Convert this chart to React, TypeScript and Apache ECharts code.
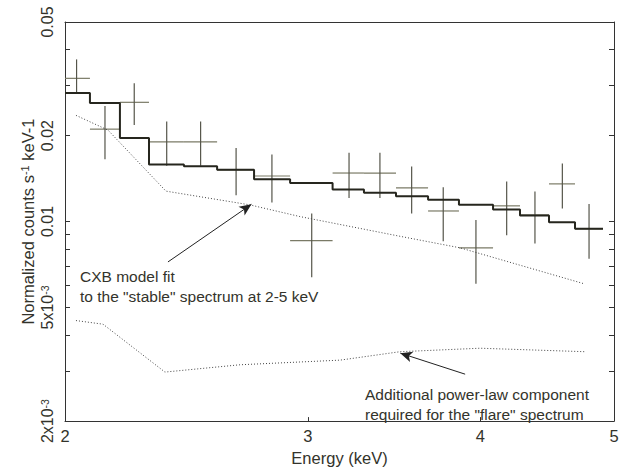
import React, { useEffect, useRef } from "react";
import * as echarts from "echarts";

// Energy bins (keV) of the spectrum
const binLo = [2.0, 2.085, 2.192, 2.301, 2.439, 2.578, 2.742, 2.912, 3.126, 3.294, 3.475, 3.666, 3.86, 4.086, 4.274, 4.486, 4.685];
const binHi = [2.085, 2.192, 2.301, 2.439, 2.578, 2.742, 2.912, 3.126, 3.294, 3.475, 3.666, 3.86, 4.086, 4.274, 4.486, 4.685, 4.909];
// Folded model (histogram), counts s^-1 keV^-1
const modelCounts = [0.02819, 0.02603, 0.01962, 0.01583, 0.01562, 0.01518, 0.01406, 0.01365, 0.01294, 0.01261, 0.01226, 0.01193, 0.01144, 0.01102, 0.01051, 0.00994, 0.00943];
// Observed data points with errors
const dataEnergy = [2.039, 2.138, 2.245, 2.37, 2.508, 2.661, 2.825, 3.019, 3.213, 3.383, 3.567, 3.76, 3.971, 4.18, 4.382, 4.587, 4.796];
const dataCounts = [0.03174, 0.02107, 0.02616, 0.019, 0.019, 0.01518, 0.01444, 0.00857, 0.01479, 0.01479, 0.01312, 0.01089, 0.00809, 0.01135, 0.01055, 0.01355, 0.00943];
const dataUpper = [0.03698, 0.02542, 0.03051, 0.0224, 0.0224, 0.0181, 0.01718, 0.01068, 0.01742, 0.01742, 0.01559, 0.0132, 0.01013, 0.01381, 0.01275, 0.01596, 0.01151];
const dataLower = [0.02841, 0.01652, 0.0218, 0.01567, 0.01567, 0.01236, 0.01165, 0.00638, 0.0121, 0.0121, 0.01068, 0.00853, 0.00605, 0.00895, 0.00838, 0.01111, 0.00741];
// CXB model component (dotted)
const cxbEnergy = [2.037, 2.149, 2.367, 2.723, 2.96, 3.498, 3.867, 4.748];
const cxbCounts = [0.02355, 0.0209, 0.01278, 0.01144, 0.01041, 0.00888, 0.00809, 0.00607];
// Additional power-law component (dotted)
const plEnergy = [2.037, 2.131, 2.363, 2.678, 3.165, 3.498, 3.998, 4.764];
const plCounts = [0.0045, 0.00437, 0.00297, 0.00315, 0.00327, 0.0035, 0.0036, 0.0035];
// Arrows [from, to] as [energy, counts]
const arrowCxb = [[2.375, 0.00722], [2.73, 0.01149]];
const arrowPl = [[3.9, 0.00292], [3.5, 0.00346]];
// Axis ticks / labels
const xLabelValues = [2, 3, 4, 5];
const xTickValues = [2, 3, 4, 5];
const yLabelValues = [0.002, 0.005, 0.01, 0.02, 0.05];
const yTickValues = [0.002, 0.003, 0.004, 0.005, 0.006, 0.007, 0.008, 0.009, 0.01, 0.02, 0.03, 0.04, 0.05];

const L = (v: number) => Math.log10(v);
const FONT = "'Liberation Sans', Arial, Helvetica, sans-serif";
const TXT = "#33332b";

function yLabel(v: number): string {
  const raw = Math.pow(10, v);
  const r = Number(raw.toPrecision(2));
  if (r >= 0.01) return r.toFixed(2);
  const exp = Math.floor(Math.log10(r) + 1e-9);
  const mant = Math.round(r / Math.pow(10, exp));
  return `${mant}x10{sup|${exp}}`;
}

export default function App() {
  const ref = useRef<HTMLDivElement>(null);
  useEffect(() => {
    if (!ref.current) return;
    const chart = echarts.init(ref.current, undefined, { renderer: "svg" });

    const stepData: number[][] = binLo.map((lo, i) => [L(lo), L(modelCounts[i])]);
    stepData.push([L(binHi[binHi.length - 1]), L(modelCounts[modelCounts.length - 1])]);

    const errData = dataEnergy.map((e, i) => [
      L(binLo[i]), L(binHi[i]), L(e), L(dataCounts[i]), L(dataLower[i]), L(dataUpper[i]),
    ]);

    const arrowMark = (a: number[][]) => ({
      silent: true,
      symbol: ["none", "arrow"],
      symbolSize: [8, 12],
      label: { show: false },
      lineStyle: { color: "#222", width: 1, type: "solid" },
      emphasis: { disabled: true },
      data: [[{ coord: [L(a[0][0]), L(a[0][1])] }, { coord: [L(a[1][0]), L(a[1][1])] }]],
    });

    const option: any = {
      animation: false,
      textStyle: { fontFamily: FONT },
      grid: { left: 65, right: 17, top: 22, bottom: 43, containLabel: false },
      xAxis: [
        {
          type: "value",
          min: L(2),
          max: L(5),
          position: "bottom",
          axisLine: { show: true, lineStyle: { color: "#333", width: 1 } },
          axisTick: { show: true, inside: true, length: 4, customValues: xTickValues.map(L), lineStyle: { color: "#333" } },
          axisLabel: {
            customValues: xLabelValues.map(L),
            formatter: (v: number) => String(Math.round(Math.pow(10, v))),
            fontSize: 16.5,
            color: TXT,
            margin: 6,
            fontFamily: FONT,
          },
          splitLine: { show: false },
          name: "Energy (keV)",
          nameLocation: "middle",
          nameGap: 26,
          nameTextStyle: { fontSize: 16.5, color: TXT, fontFamily: FONT },
        },
        {
          type: "value",
          min: L(2),
          max: L(5),
          position: "top",
          axisLine: { show: true, lineStyle: { color: "#333", width: 1 } },
          axisTick: { show: false },
          axisLabel: { show: false },
          splitLine: { show: false },
        },
      ],
      yAxis: [
        {
          type: "value",
          min: L(0.002),
          max: L(0.05),
          position: "left",
          axisLine: { show: true, lineStyle: { color: "#333", width: 1 } },
          axisTick: { show: true, inside: true, length: 5, customValues: yTickValues.map(L), lineStyle: { color: "#333" } },
          axisLabel: {
            customValues: yLabelValues.map(L),
            formatter: yLabel,
            rotate: 90,
            fontSize: 16,
            color: TXT,
            margin: 10,
            fontFamily: FONT,
            rich: { sup: { fontSize: 10.5, verticalAlign: "top", color: TXT, fontFamily: FONT } },
          },
          splitLine: { show: false },
          name: "Normalized counts s{sup|-1} keV-1",
          nameLocation: "middle",
          nameRotate: 90,
          nameGap: 29,
          nameMoveOverlap: false,
          nameTextStyle: {
            fontSize: 16.5,
            color: TXT,
            fontFamily: FONT,
            rich: { sup: { fontSize: 11, verticalAlign: "top", color: TXT, fontFamily: FONT } },
          },
        },
        {
          type: "value",
          min: L(0.002),
          max: L(0.05),
          position: "right",
          axisLine: { show: true, lineStyle: { color: "#333", width: 1 } },
          axisTick: { show: true, inside: true, length: 5, customValues: yTickValues.map(L), lineStyle: { color: "#333" } },
          axisLabel: { show: false },
          splitLine: { show: false },
        },
      ],
      series: [
        {
          type: "custom",
          name: "data",
          z: 2,
          silent: true,
          encode: { x: [0, 1, 2], y: [3, 4, 5] },
          data: errData,
          renderItem: (_params: any, api: any) => {
            const lo = api.coord([api.value(0), api.value(3)]);
            const hi = api.coord([api.value(1), api.value(3)]);
            const top = api.coord([api.value(2), api.value(5)]);
            const bot = api.coord([api.value(2), api.value(4)]);
            return {
              type: "group",
              children: [
                { type: "line", shape: { x1: lo[0], y1: lo[1], x2: hi[0], y2: hi[1] }, style: { stroke: "#7a7a66", lineWidth: 1.2 } },
                { type: "line", shape: { x1: top[0], y1: top[1], x2: bot[0], y2: bot[1] }, style: { stroke: "#55554a", lineWidth: 1.2 } },
              ],
            };
          },
        },
        {
          type: "line",
          name: "model",
          z: 3,
          step: "end",
          symbol: "none",
          silent: true,
          data: stepData,
          lineStyle: { color: "#26261e", width: 2 },
        },
        {
          type: "line",
          name: "cxb",
          z: 2,
          symbol: "none",
          silent: true,
          data: cxbEnergy.map((e, i) => [L(e), L(cxbCounts[i])]),
          lineStyle: { color: "#444", width: 1, type: [1, 2] },
          markLine: arrowMark(arrowCxb),
        },
        {
          type: "line",
          name: "powerlaw",
          z: 2,
          symbol: "none",
          silent: true,
          data: plEnergy.map((e, i) => [L(e), L(plCounts[i])]),
          lineStyle: { color: "#444", width: 1, type: [1, 2] },
          markLine: arrowMark(arrowPl),
        },
      ],
      graphic: [
        {
          type: "text",
          left: 80,
          top: 266,
          silent: true,
          style: {
            text: 'CXB model fit\nto the "stable" spectrum at 2-5 keV',
            font: `15.5px ${FONT}`,
            fill: TXT,
            lineHeight: 20,
          },
        },
        {
          type: "text",
          left: 365,
          top: 384,
          silent: true,
          style: {
            text: 'Additional power-law component\nrequired for the "flare" spectrum',
            font: `15.5px ${FONT}`,
            fill: TXT,
            lineHeight: 20,
          },
        },
      ],
    };

    chart.setOption(option);
    return () => chart.dispose();
  }, []);

  return (
    <div
      ref={ref}
      style={{ position: "fixed", left: 0, top: 0, width: 631, height: 471, background: "#fff" }}
    />
  );
}
